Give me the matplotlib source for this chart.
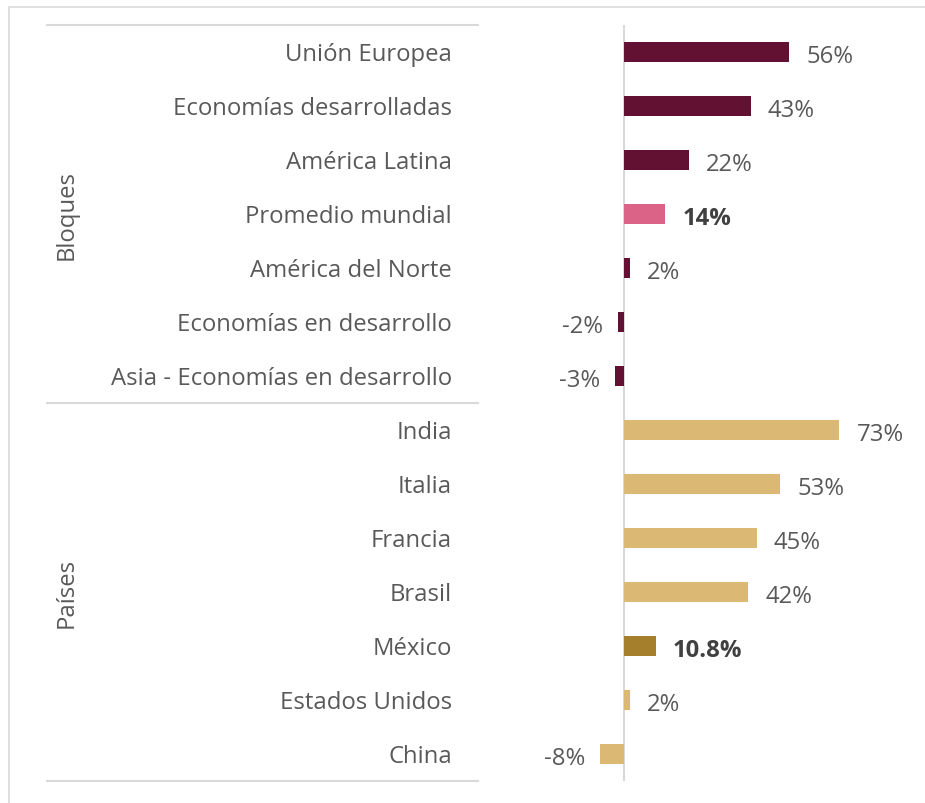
import matplotlib
matplotlib.use("Agg")
import matplotlib.pyplot as plt
import matplotlib.transforms as mtransforms
from matplotlib.lines import Line2D
from matplotlib.patches import Rectangle

plt.rcParams['font.family'] = ['Open Sans', 'DejaVu Sans']

categories = ["Unión Europea", "Economías desarrolladas", "América Latina", "Promedio mundial",
              "América del Norte", "Economías en desarrollo", "Asia - Economías en desarrollo",
              "India", "Italia", "Francia", "Brasil", "México", "Estados Unidos", "China"]
values = [56, 43, 22, 14, 2, -2, -3, 73, 53, 45, 42, 10.8, 2, -8]
value_labels = ["56%", "43%", "22%", "14%", "2%", "-2%", "-3%",
                "73%", "53%", "45%", "42%", "10.8%", "2%", "-8%"]
groups = ["Bloques", "Países"]
group_sizes = [7, 7]

MAROON = "#621132"
PINK = "#DB6388"
GOLD = "#DBB974"
DGOLD = "#A57F2C"
colors = [MAROON, MAROON, MAROON, PINK, MAROON, MAROON, MAROON,
          GOLD, GOLD, GOLD, GOLD, DGOLD, GOLD, GOLD]
bold = [c in ("Promedio mundial", "México") for c in categories]

W, H = 925, 804
fig = plt.figure(figsize=(W / 100, H / 100), dpi=100)

ax_left, ax_right = 530, 900
ax_top, ax_bottom = 26, 782
ax = fig.add_axes([ax_left / W, 1 - ax_bottom / H, (ax_right - ax_left) / W, (ax_bottom - ax_top) / H])
px_per = 2.95
zero_px = 624
ax.set_xlim(-(zero_px - ax_left) / px_per, (ax_right - zero_px) / px_per)
ax.set_ylim(len(categories) - 0.5, -0.5)
ax.axis("off")

ypos = list(range(len(categories)))
ax.barh(ypos, values, height=0.37, color=colors)
ax.axvline(0, color="#d9d9d9", lw=1.5, zorder=0)

FS = 17.2
txtcol = "#595959"
for y, v, lab, b in zip(ypos, values, value_labels, bold):
    off = 5.8 if v >= 0 else -5.0
    ax.text(v + off, y + 0.07, lab, ha="left" if v >= 0 else "right", va="center",
            fontsize=FS, color="#404040" if b else txtcol,
            fontweight="bold" if b else "normal")

trans = mtransforms.blended_transform_factory(fig.transFigure, ax.transData)
for y, c in zip(ypos, categories):
    ax.text(452 / W, y + 0.04, c, transform=trans, ha="right", va="center",
            fontsize=FS, color=txtcol)

# group labels and separators
start = 0
for g, n in zip(groups, group_sizes):
    center = start + (n - 1) / 2
    ax.text(67 / W, center, g, transform=trans, ha="center", va="center",
            rotation=90, fontsize=FS, color=txtcol)
    start += n
for yb in [-0.5, 6.5, 13.5]:
    fig.add_artist(Line2D([47 / W, 478 / W], [yb, yb], transform=trans,
                          color="#d9d9d9", lw=1.5))

# outer frame
fig.add_artist(Rectangle((9 / W, -0.1), 1.2, 1 - 8 / H + 0.1, transform=fig.transFigure,
                         fill=False, edgecolor="#d9d9d9", lw=1.2))

fig.savefig("out.png", dpi=100)
